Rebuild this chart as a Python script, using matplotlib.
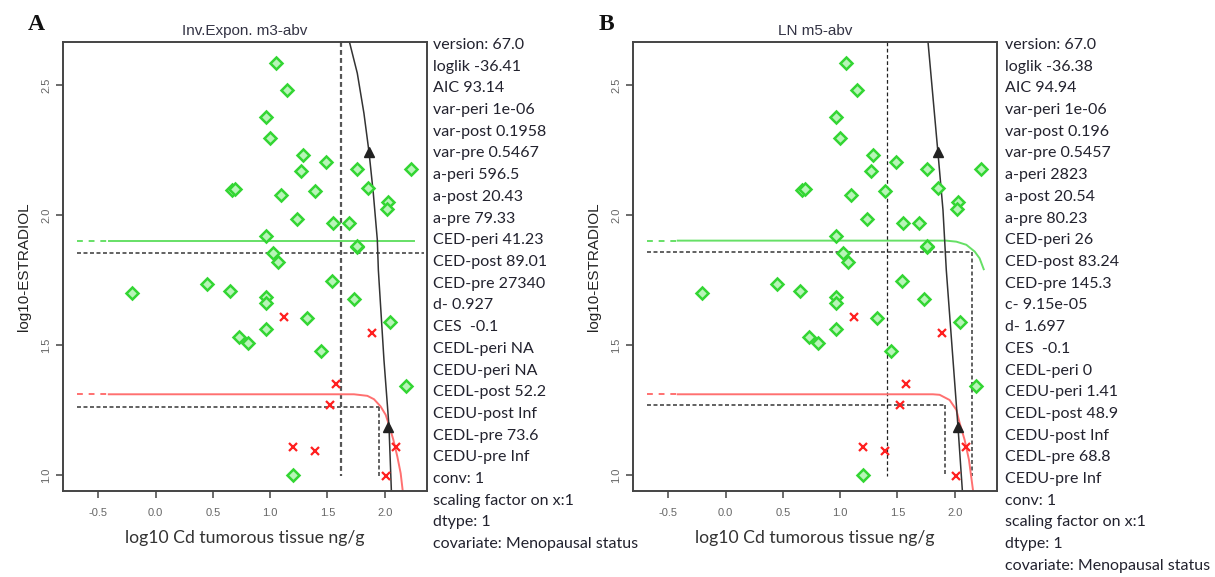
#Recreates the two PROAST style fit panels (A: Inv.Expon, B: LN) for estradiol vs Cd.
import numpy as np
from matplotlib import pyplot as plt

#Observed points, same for both panels
green_x = [1.047, 1.143, 0.960, 0.998, 1.286, 1.490, 1.266, 1.761, 2.233, 0.669, 0.692, 1.091, 1.391,
           1.854, 2.029, 2.023, 1.237, 1.551, 1.688, 0.960, 1.761, 1.761, 1.027, 1.067, 0.444, -0.205,
           0.645, 0.960, 0.960, 1.537, 1.732, 1.324, 0.966, 0.727, 0.808, 1.447, 2.044, 2.190, 1.199]
green_y = [2.583, 2.481, 2.378, 2.295, 2.231, 2.205, 2.167, 2.177, 2.177, 2.094, 2.099, 2.077, 2.090,
           2.105, 2.051, 2.022, 1.983, 1.970, 1.970, 1.919, 1.878, 1.882, 1.855, 1.817, 1.735, 1.701,
           1.709, 1.683, 1.662, 1.747, 1.676, 1.603, 1.562, 1.532, 1.506, 1.477, 1.587, 1.343, 1.000]
red_x = [1.120, 1.892, 1.578, 1.522, 1.202, 1.391, 2.102, 2.015]
red_y = [1.609, 1.547, 1.350, 1.267, 1.109, 1.090, 1.109, 0.997]

#Panel A fitted curves
a_green_x = [-0.41, 2.255]
a_green_y = [1.901, 1.901]
a_red_x = [-0.41, 1.732, 1.849, 1.907, 1.965, 2.009, 2.038, 2.076, 2.111, 2.140, 2.157]
a_red_y = [1.310, 1.310, 1.304, 1.291, 1.263, 1.231, 1.192, 1.135, 1.070, 1.006, 0.942]
a_black_x = [1.688, 1.761, 1.819, 1.863, 1.901, 1.936, 1.945, 1.994, 2.038, 2.059]
a_black_y = [2.673, 2.545, 2.391, 2.243, 2.083, 1.904, 1.788, 1.442, 1.186, 0.936]
a_tri_x = [1.863, 2.030]
a_tri_y = [2.243, 1.186]
#CED guide lines: (level, x end of horizontal) and (x, top of vertical)
a_hlines = [(1.855, 2.344), (1.263, 1.950)]
a_vlines = [(1.950, 1.263)]
a_vline_full = 1.615

#Panel B fitted curves
b_green_x = [-0.419, 1.927, 2.015, 2.102, 2.175, 2.218, 2.254]
b_green_y = [1.901, 1.901, 1.897, 1.885, 1.859, 1.833, 1.791]
b_red_x = [-0.419, 1.810, 1.869, 1.956, 2.015, 2.044, 2.087, 2.125, 2.160]
b_red_y = [1.310, 1.310, 1.308, 1.288, 1.250, 1.199, 1.135, 1.058, 0.942]
b_black_x = [1.767, 1.854, 1.898, 1.927, 2.029, 2.067]
b_black_y = [2.667, 2.240, 2.019, 1.788, 1.186, 0.942]
b_tri_x = [1.854, 2.029]
b_tri_y = [2.240, 1.186]
b_hlines = [(1.856, 2.155), (1.267, 1.913)]
b_vlines = [(2.155, 1.856), (1.913, 1.267)]
b_vline_full = 1.408

x_ticks = [-0.5, 0.0, 0.5, 1.0, 1.5, 2.0]
y_ticks = [1.0, 1.5, 2.0, 2.5]

a_info = ["version: 67.0", "loglik -36.41", "AIC 93.14", "var-peri 1e-06", "var-post 0.1958",
          "var-pre 0.5467", "a-peri 596.5", "a-post 20.43", "a-pre 79.33", "CED-peri 41.23",
          "CED-post 89.01", "CED-pre 27340", "d- 0.927", "CES  -0.1", "CEDL-peri NA", "CEDU-peri NA",
          "CEDL-post 52.2", "CEDU-post Inf", "CEDL-pre 73.6", "CEDU-pre Inf", "conv: 1",
          "scaling factor on x:1", "dtype: 1", "covariate: Menopausal status"]
b_info = ["version: 67.0", "loglik -36.38", "AIC 94.94", "var-peri 1e-06", "var-post 0.196",
          "var-pre 0.5457", "a-peri 2823", "a-post 20.54", "a-pre 80.23", "CED-peri 26",
          "CED-post 83.24", "CED-pre 145.3", "c- 9.15e-05", "d- 1.697", "CES  -0.1", "CEDL-peri 0",
          "CEDU-peri 1.41", "CEDL-post 48.9", "CEDU-post Inf", "CEDL-pre 68.8", "CEDU-pre Inf",
          "conv: 1", "scaling factor on x:1", "dtype: 1", "covariate: Menopausal status"]

GREEN = "#33d633"
GUIDE = "#555555"
TXT = "#22222e"
W, H = 1215, 577

fig = plt.figure(figsize=(12.15, 5.77), dpi=100)


def draw_panel(left, letter, title, gx, gy, rx, ry, bx, by, tx, ty, hl, vl, vfull, vstyle, info, text_gap):
  ax = fig.add_axes([left / W, 1 - 491 / H, 364 / W, 449 / H])
  ax.set_xlim(-0.81, 2.37)
  ax.set_ylim(0.938, 2.665)

  #Guide lines for the CED values
  dash = (0, (2.2, 1.4))
  for level, xend in hl:
    ax.plot([-0.692, xend], [level, level], color=GUIDE, lw=1.3, ls=dash)
  for xv, ytop in vl:
    ax.plot([xv, xv], [ytop, 0.997], color=GUIDE, lw=1.3, ls=dash)
  if vstyle == "dot":
    ax.plot([vfull, vfull], [2.665, 0.997], color=GUIDE, lw=1.6, ls=dash)
  else:
    ax.plot([vfull, vfull], [2.665, 0.997], color="#222222", lw=0.9, ls=(0, (3, 2)))

  #Fitted curves, dashed stub below the lowest dose
  ax.plot([-0.692, gx[0]], [gy[0], gy[0]], color="#66e066", lw=1.4, ls=(0, (3, 3)))
  ax.plot(gx, gy, color="#66e066", lw=1.4)
  ax.plot([-0.692, rx[0]], [ry[0], ry[0]], color="#ff7070", lw=1.4, ls=(0, (3, 3)))
  ax.plot(rx, ry, color="#ff7070", lw=1.4)
  ax.plot(bx, by, color="#333333", lw=1.1)
  ax.plot(tx, ty, ls="none", marker="^", ms=7, color="#222222")

  ax.plot(green_x, green_y, ls="none", marker="D", ms=5.8, mfc="#b8f5b8", mec=GREEN, mew=1.8)
  ax.plot(red_x, red_y, ls="none", marker="x", ms=5.5, color="#ff2020", mew=1.6)

  for s in ax.spines.values():
    s.set_color("#444444")
    s.set_linewidth(1.4)
  ax.set_xticks(x_ticks)
  ax.set_yticks(y_ticks)
  ax.set_xticklabels(["-0.5", "0.0", "0.5", "1.0", "1.5", "2.0"])
  ax.set_yticklabels(["1.0", "1.5", "2.0", "2.5"], rotation=90, va="center")
  ax.tick_params(axis="both", colors="#444444", labelcolor="#666666", labelsize=8, length=5, width=1.1)
  ax.tick_params(axis="x", pad=7)
  for lab in ax.get_xticklabels() + ax.get_yticklabels():
    lab.set_family("Liberation Sans")

  ax.set_title(title, fontsize=11, family="Liberation Sans", color="#333344", pad=5)
  ax.set_xlabel("log10 Cd tumorous tissue ng/g", fontsize=12.7, family="Lato", color="#333333", labelpad=9)
  ax.set_ylabel("log10-ESTRADIOL", fontsize=11, family="Liberation Sans", color="#222222", labelpad=7)

  fig.text((left - 27) / W, 1 - 25 / H, letter, fontsize=17, fontweight="bold",
           family="Liberation Serif", color="#111111", va="center", ha="center")

  #Model info text to the right of the box
  tx0 = (left + 364 + text_gap) / W
  for i, line in enumerate(info):
    fig.text(tx0, 1 - (45 + i * 21.7) / H, line, fontsize=11.5, family="Lato",
             color=TXT, va="center", ha="left")
  return ax


draw_panel(63, "A", "Inv.Expon. m3-abv", a_green_x, a_green_y, a_red_x, a_red_y,
           a_black_x, a_black_y, a_tri_x, a_tri_y, a_hlines, a_vlines, a_vline_full, "dot", a_info, 6)
draw_panel(633, "B", "LN m5-abv", b_green_x, b_green_y, b_red_x, b_red_y,
           b_black_x, b_black_y, b_tri_x, b_tri_y, b_hlines, b_vlines, b_vline_full, "dash", b_info, 8)

plt.savefig("out.png", dpi=100)
